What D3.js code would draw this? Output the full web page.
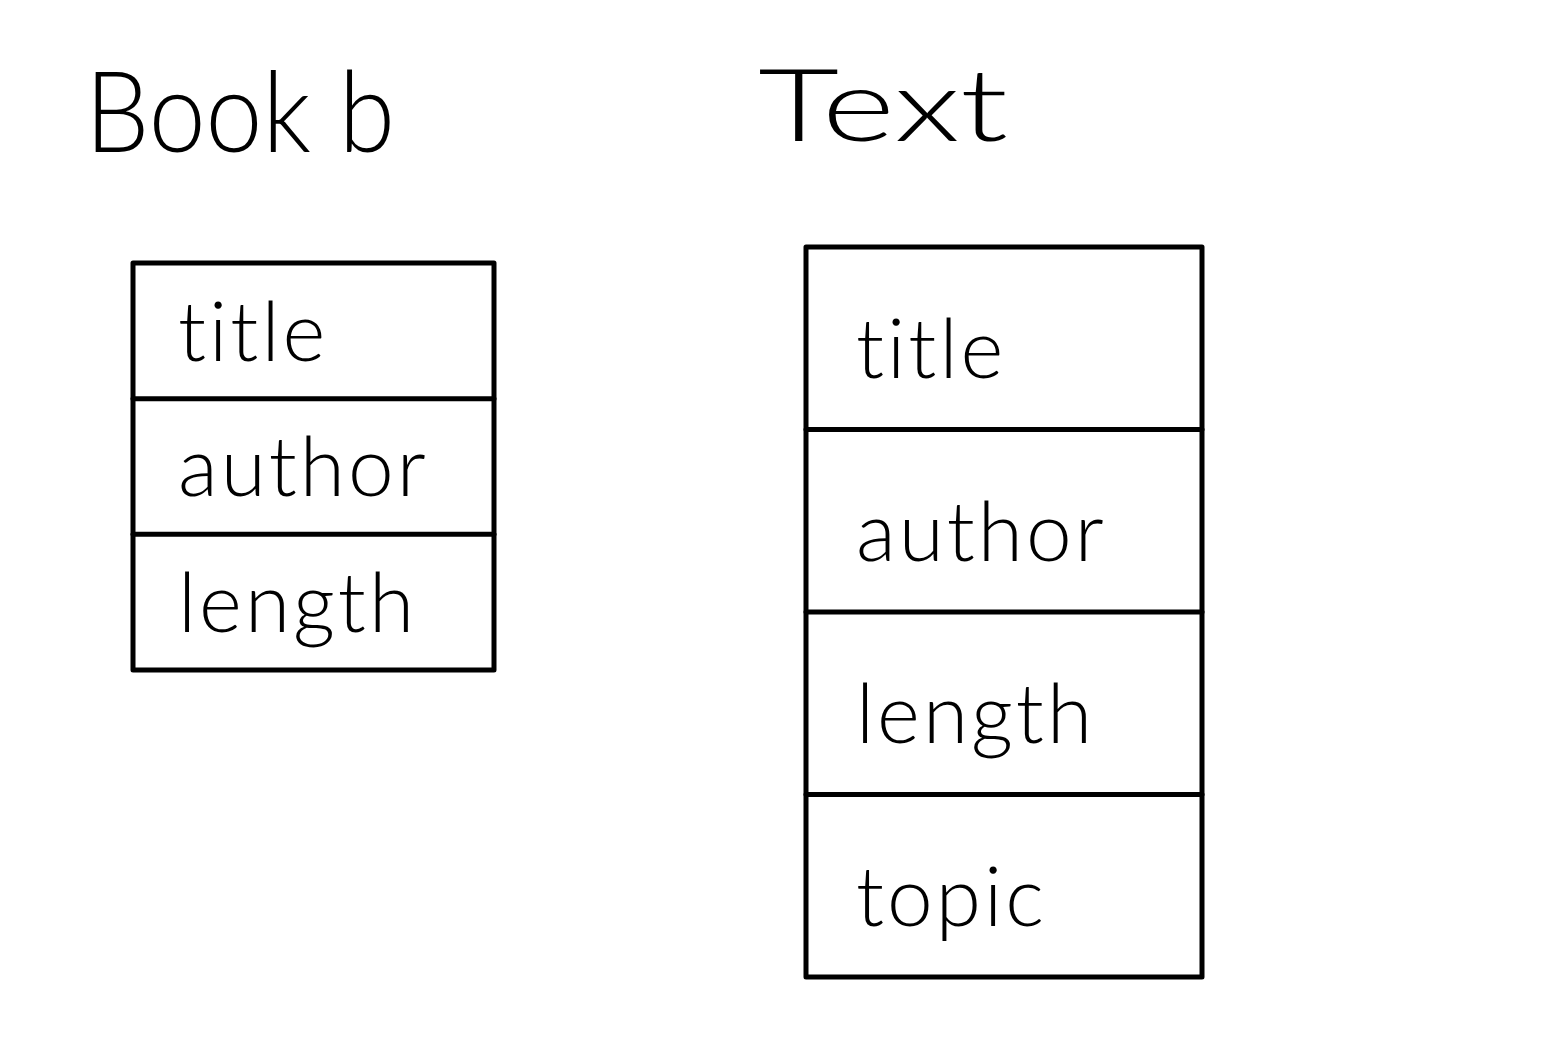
<!DOCTYPE html>
<html>
<head>
<meta charset="utf-8">
<script src="https://cdn.jsdelivr.net/npm/d3@7"></script>
<style>
  html, body { margin: 0; padding: 0; background: #fff; }
  svg text { font-family: "Lato", "Open Sans", sans-serif; font-weight: 300; fill: #000; }
</style>
</head>
<body>
<svg id="chart" width="1553" height="1050"></svg>
<script>
// entities and their fields
const entities = ["Book b", "Text"];
const bookFields = ["title", "author", "length"];
const textFields = ["title", "author", "length", "topic"];
const fieldsByEntity = [bookFields, textFields];

// where each box sits on the page
const layout = [
  { x0: 133, x1: 494, y0: 263, y1: 670, titleX: 85, titleY: 152, titleSize: 112, titleLen: 310, pad: 45 },
  { x0: 806, x1: 1202, y0: 247, y1: 977, titleX: 758, titleY: 141, titleSize: 100, titleLen: 250, pad: 50 }
];

const svg = d3.select("#chart");

entities.forEach((name, i) => {
  const L = layout[i];
  const fields = fieldsByEntity[i];
  const x = d3.scaleLinear().domain([0, 1]).range([L.x0, L.x1]);
  const y = d3.scaleBand().domain(fields).range([L.y0, L.y1]);

  const g = svg.append("g").attr("class", "entity");

  // entity name above the box
  g.append("text")
    .attr("x", L.titleX)
    .attr("y", L.titleY)
    .attr("font-size", L.titleSize)
    .attr("textLength", L.titleLen)
    .attr("lengthAdjust", "spacingAndGlyphs")
    .text(name);

  // outer box
  g.append("rect")
    .attr("x", x(0))
    .attr("y", y.range()[0])
    .attr("width", x(1) - x(0))
    .attr("height", y.range()[1] - y.range()[0])
    .attr("fill", "none")
    .attr("stroke", "#000")
    .attr("stroke-width", 5)
    .attr("stroke-linejoin", "round");

  // row dividers
  g.selectAll("line.divider")
    .data(fields.slice(1))
    .join("line")
    .attr("class", "divider")
    .attr("x1", x(0))
    .attr("x2", x(1))
    .attr("y1", d => y(d))
    .attr("y2", d => y(d))
    .attr("stroke", "#000")
    .attr("stroke-width", 5)
    .attr("stroke-linecap", "round");

  // field labels
  g.selectAll("text.field")
    .data(fields)
    .join("text")
    .attr("class", "field")
    .attr("x", x(0) + L.pad)
    .attr("y", d => y(d) + y.bandwidth() * 0.72)
    .attr("font-size", 82)
    .attr("letter-spacing", 3)
    .text(d => d);
});
</script>
</body>
</html>
